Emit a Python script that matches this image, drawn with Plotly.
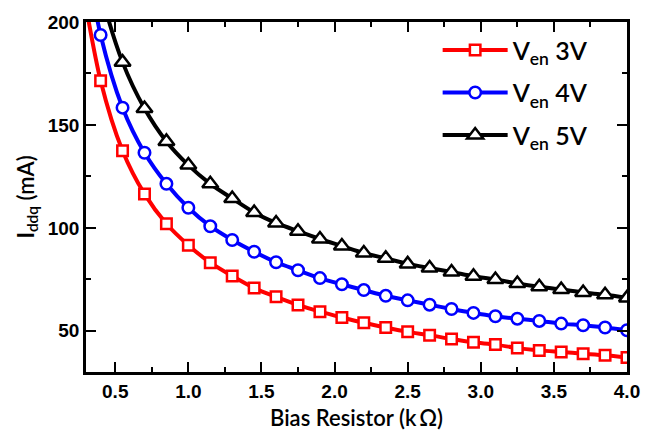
import plotly.graph_objects as go

resistor = [0.25, 0.4, 0.55, 0.7, 0.85, 1.0, 1.15, 1.3, 1.45, 1.6, 1.75, 1.9, 2.05,
            2.2, 2.35, 2.5, 2.65, 2.8, 2.95, 3.1, 3.25, 3.4, 3.55, 3.7, 3.85, 4.0]
ven3 = [228, 171.5, 137.5, 116.5, 102, 91.6, 83.1, 76.6, 70.8, 66.5, 62.6, 59.3, 56.5,
        53.9, 51.6, 49.5, 47.9, 46, 44.4, 43.3, 41.6, 40.5, 39.7, 38.9, 38.1, 37]
ven4 = [252, 193.7, 158.4, 136.5, 121.4, 109.8, 100.8, 94.1, 88.4, 83.3, 79.4, 75.6, 72.6,
        69.8, 67, 64.8, 62.7, 60.6, 58.7, 57.1, 55.9, 54.8, 53.5, 52.7, 51.6, 50.3]
ven5 = [265, 215, 180.5, 158, 142, 130.5, 121.4, 114.3, 107.5, 102.4, 98.4, 94.6, 91.2,
        87.8, 85.2, 82.5, 80.5, 78.6, 76.5, 74.9, 73, 71.4, 70.1, 68.6, 67.5, 66]

series = [
    ("V<sub>en</sub> 3V", ven3, "#ff0000", "square", 10.5),
    ("V<sub>en</sub> 4V", ven4, "#0000ff", "circle", 11.5),
    ("V<sub>en</sub> 5V", ven5, "#000000", "triangle-up", 14),
]

fig = go.Figure()
for i, (name, vals, col, sym, sz) in enumerate(series):
    fig.add_trace(go.Scatter(
        x=resistor, y=vals, name=name, mode="lines+markers",
        line=dict(color=col, width=4, shape="spline", smoothing=0.8),
        marker=dict(symbol=sym, size=sz, color="white", line=dict(color=col, width=2.5)),
        legendgroup=str(i),
    ))

axis_common = dict(
    showline=True, linecolor="black", linewidth=2.5, mirror="ticks",
    ticks="inside", ticklen=10, tickwidth=2, tickcolor="black",
    showgrid=False, zeroline=False,
    tickfont=dict(family="Liberation Sans", size=19, color="black", weight="bold"),
)

fig.update_xaxes(
    range=[0.3, 4.0], tickvals=[0.5, 1.0, 1.5, 2.0, 2.5, 3.0, 3.5, 4.0],
    ticktext=["0.5", "1.0", "1.5", "2.0", "2.5", "3.0", "3.5", "4.0"],
    minor=dict(dtick=0.25, tick0=0.25, ticks="inside", ticklen=5, tickwidth=2, tickcolor="black"),
    title=dict(text="Bias Resistor (k\u2009\u03a9)",
               font=dict(family="Lato", size=22, color="black", weight=600), standoff=11),
    **axis_common,
)
fig.update_yaxes(
    range=[30, 200], tickvals=[50, 100, 150, 200],
    minor=dict(dtick=25, tick0=25, ticks="inside", ticklen=5, tickwidth=2, tickcolor="black"),
    title=dict(text="<b>I</b><sub>ddq</sub> (mA)",
               font=dict(family="Lato", size=22, color="black", weight=600), standoff=8),
    **axis_common,
)

fig.update_layout(
    width=653, height=440,
    margin=dict(l=86, r=26, t=15, b=67),
    plot_bgcolor="white", paper_bgcolor="white",
    legend=dict(x=0.65, y=0.985, xanchor="left", yanchor="top",
                font=dict(family="Lato", size=25, color="black", weight=600),
                bgcolor="rgba(0,0,0,0)", itemwidth=65, tracegroupgap=7,
                traceorder="grouped"),
)

fig.write_html("out.html")
